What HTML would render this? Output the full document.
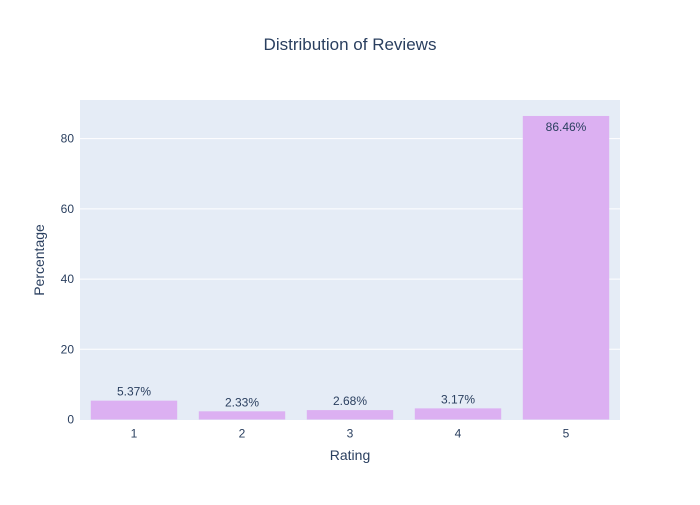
<!DOCTYPE html>
<html><head><meta charset="utf-8"><style>
body{margin:0;background:#fff;font-family:"Liberation Sans",sans-serif;}
svg text{font-family:"Liberation Sans",sans-serif;fill:#2a3f5f;}
</style></head><body>
<svg id="chart" width="700" height="500">
<rect x="0" y="0" width="700" height="500" fill="#fff"/>
<rect x="80" y="100" width="540" height="320" fill="#e5ecf6"/>
<text x="350" y="50" text-anchor="middle" font-size="17">Distribution of Reviews</text>
<text x="350" y="460" text-anchor="middle" font-size="14">Rating</text>
<text transform="translate(44,260) rotate(-90)" text-anchor="middle" font-size="14">Percentage</text>
<g id="grid"></g><g id="bars"></g><g id="labels"></g>
</svg>
<script>
const categories = ["1","2","3","4","5"];
const values = [5.37, 2.33, 2.68, 3.17, 86.46];
const valueLabels = ["5.37%","2.33%","2.68%","3.17%","86.46%"];
const yTicks = [0, 20, 40, 60, 80];
const NS = "http://www.w3.org/2000/svg";
const x0 = 80, x1 = 620, yTop = 100, yBot = 419.5;
const yMax = Math.max(...values) / 0.95;
const y = v => yBot - v / yMax * (yBot - yTop);
const band = (x1 - x0) / categories.length;
const xc = i => x0 + band * (i + 0.5);
function mk(tag, attrs, parent){const e=document.createElementNS(NS,tag);for(const k in attrs)e.setAttribute(k,attrs[k]);document.getElementById(parent).appendChild(e);return e;}
yTicks.forEach(t=>{
  if(t>0){const l=mk("line",{x1:x0,x2:x1,y1:y(t),y2:y(t),stroke:"#fff","stroke-width":1},"grid");
  
  }
  const tx=mk("text",{x:x0-6,y:y(t)+4,"text-anchor":"end","font-size":12},"grid");
  tx.textContent=t;
  
  
});
categories.forEach((c,i)=>{
  const w=band*0.8;
  const r=mk("rect",{x:xc(i)-w/2,y:y(values[i]),width:w,height:yBot-y(values[i]),fill:"#dcb0f2"},"bars");
  
  
  const tl=mk("text",{x:xc(i),y:yBot+18,"text-anchor":"middle","font-size":12},"labels");
  tl.textContent=c;
  
  
  const h=yBot-y(values[i]);
  const inside=h>30;
  const vl=mk("text",{x:xc(i),y:inside?y(values[i])+15:y(values[i])-5,"text-anchor":"middle","font-size":12},"labels");
  vl.textContent=valueLabels[i];
  
  
});
</script>
</body></html>
